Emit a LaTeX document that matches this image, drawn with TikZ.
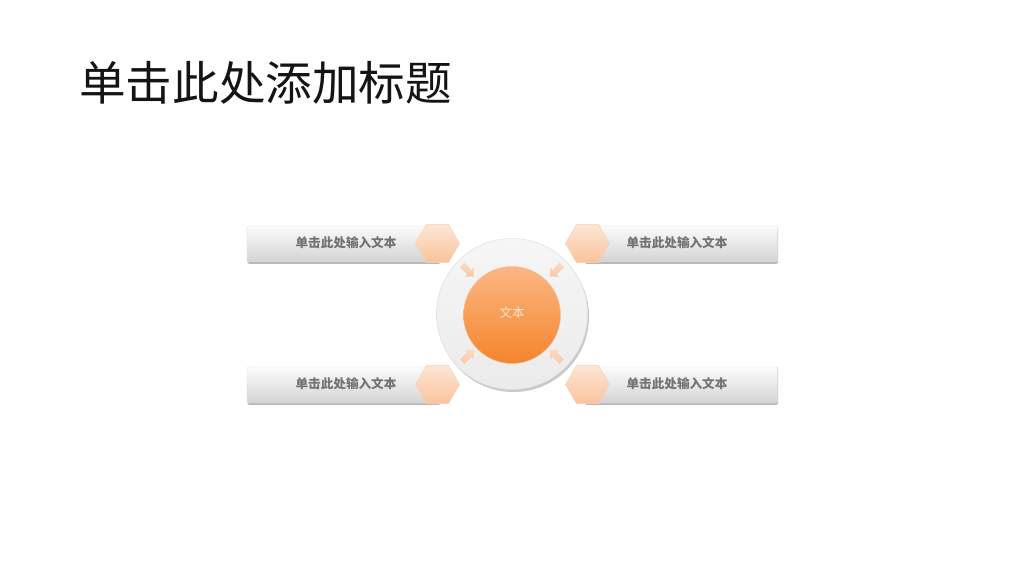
\documentclass[tikz,border=0pt]{standalone}
\usepackage{fontspec}
\newfontfamily\cjk{Noto Sans CJK SC}
\usetikzlibrary{shapes.geometric,shapes.arrows,shadows}
\definecolor{bartop}{HTML}{FBFBFB}
\definecolor{barbot}{HTML}{D4D4D4}
\definecolor{hextop}{HTML}{FDE6D5}
\definecolor{hexbot}{HTML}{FAC39C}
\definecolor{hexline}{HTML}{F8D2B6}
\definecolor{ringtop}{HTML}{F6F6F6}
\definecolor{ringbot}{HTML}{EBEBEB}
\definecolor{orgtop}{HTML}{FBB685}
\definecolor{orgbot}{HTML}{F5852B}
\definecolor{arrfill}{HTML}{FBC9A4}
\definecolor{bartext}{HTML}{737373}
\definecolor{ctext}{HTML}{FDE7D2}
\tikzset{
  barbox/.style={rectangle, rounded corners=1.5pt, minimum width=193pt, minimum height=36pt, inner sep=0pt,
    top color=bartop, bottom color=barbot, draw=barbot!80, line width=0.4pt,
    drop shadow={shadow xshift=0.5pt, shadow yshift=-1.8pt, opacity=0.5, fill=black!55}},
  hexbox/.style={regular polygon, regular polygon sides=6, minimum size=44pt, inner sep=0pt,
    top color=hextop, bottom color=hexbot, draw=hexline, line width=0.5pt},
  bartxt/.style={font=\cjk\bfseries\fontsize{12.6}{14}\selectfont, text=bartext, inner sep=0pt},
  ringbox/.style={circle, minimum size=151pt, inner sep=0pt, top color=ringtop, bottom color=ringbot,
    draw=white!88!black, line width=0.5pt,
    drop shadow={shadow xshift=1.5pt, shadow yshift=-2.5pt, opacity=0.35, fill=black!60}},
  corebox/.style={circle, minimum size=97pt, inner sep=0pt, top color=orgtop, bottom color=orgbot,
    draw=orgtop!90!white, line width=0.4pt},
  arrbox/.style={single arrow, top color=arrfill!70!white, bottom color=arrfill, draw=arrfill!85!white, line width=0.3pt,
    minimum height=16pt, minimum width=12pt, single arrow head extend=3pt,
    inner sep=2.6pt}
}
\begin{document}
\begin{tikzpicture}[x=1pt,y=1pt]
\useasboundingbox (0,0) rectangle (1024,576);
\fill[white] (0,0) rectangle (1024,576);
% title
\node[anchor=west, inner sep=0pt, font=\cjk\fontsize{46.6}{50}\selectfont, text=black!92] (title) at (79,493) {单击此处添加标题};
% bars
\node[barbox] (b1) at (343.5,332) {};
\node[barbox] (b2) at (681,332) {};
\node[barbox] (b3) at (343.5,191) {};
\node[barbox] (b4) at (681,191) {};
\node[bartxt] (t1) at (346,333) {单击此处输入文本};
\node[bartxt] (t2) at (677,333) {单击此处输入文本};
\node[bartxt] (t3) at (346,192) {单击此处输入文本};
\node[bartxt] (t4) at (677,192) {单击此处输入文本};
% hexagons
\node[hexbox] (h1) at (437.5,332.5) {};
\node[hexbox] (h2) at (587.5,332.5) {};
\node[hexbox] (h3) at (437.5,191.5) {};
\node[hexbox] (h4) at (587.5,191.5) {};
% central circle
\node[ringbox] (ring) at (512,262) {};
\node[corebox] (core) at (512,261) {};
\node[font=\cjk\fontsize{12.5}{14}\selectfont, text=ctext, inner sep=0pt] (ct) at (512,263) {文本};
% small arrows
\node[arrbox, rotate=-45] (a1) at (467,306) {};
\node[arrbox, rotate=-135] (a2) at (557,306) {};
\node[arrbox, rotate=45] (a3) at (467,219) {};
\node[arrbox, rotate=135] (a4) at (557,219) {};
\end{tikzpicture}
\end{document}
